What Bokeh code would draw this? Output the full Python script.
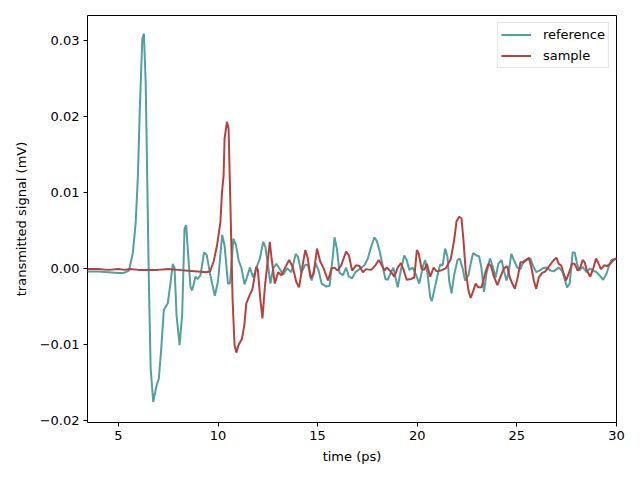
from bokeh.plotting import figure
from bokeh.models import FixedTicker, CustomJSTickFormatter, Range1d, Legend, LegendItem
from bokeh.embed import file_html
from bokeh.resources import INLINE

ref_t = [3.45, 4.0, 4.5, 5.0, 5.28, 5.53, 5.73, 5.87, 5.98, 6.08, 6.2, 6.28, 6.37, 6.45, 6.53, 6.62, 6.75,
         6.9, 7.03, 7.15, 7.28, 7.48, 7.62, 7.73, 7.82, 7.92, 8.07, 8.2, 8.32, 8.4, 8.48, 8.62, 8.7, 8.87,
         8.98, 9.12, 9.3, 9.43, 9.6, 9.84, 10.0, 10.21, 10.33, 10.5, 10.6, 10.77, 10.9, 11.04, 11.17, 11.33,
         11.45, 11.6, 11.76, 11.92, 12.1, 12.27, 12.38, 12.52, 12.63, 12.77, 12.93, 13.1, 13.27, 13.47,
         13.68, 13.9, 14.02, 14.18, 14.38, 14.52, 14.7, 14.9, 15.05, 15.2, 15.43, 15.6, 15.75, 15.85, 15.97,
         16.1, 16.27, 16.43, 16.57, 16.73, 16.9, 17.1, 17.35, 17.52, 17.68, 17.85, 17.97, 18.1, 18.23, 18.4,
         18.52, 18.63, 18.8, 19.02, 19.18, 19.35, 19.47, 19.6, 19.77, 19.93, 20.1, 20.3, 20.4, 20.52, 20.65,
         20.73, 20.85, 21.02, 21.15, 21.27, 21.4, 21.52, 21.6, 21.72, 21.85, 22.02, 22.13, 22.27, 22.4,
         22.57, 22.68, 22.8, 22.97, 23.1, 23.22, 23.35, 23.48, 23.65, 23.77, 23.93, 24.07, 24.23, 24.35,
         24.48, 24.6, 24.72, 24.85, 25.02, 25.18, 25.35, 25.68, 25.8, 25.97, 26.13, 26.3, 26.5, 26.68, 26.85,
         27.1, 27.27, 27.52, 27.65, 27.8, 27.9, 28.02, 28.13, 28.3, 28.5, 28.67, 28.83, 29.0, 29.17, 29.33,
         29.5, 29.63, 29.75, 30.0]
ref_v = [-0.0004, -0.0004, -0.0005, -0.0006, -0.0006, -0.0003, 0.0021, 0.0061, 0.0122, 0.0214, 0.0302,
         0.0309, 0.0245, 0.0114, -0.0018, -0.0132, -0.0176, -0.0156, -0.0145, -0.0106, -0.0055, -0.0046,
         -0.0018, 0.0006, 0.0, -0.0062, -0.0101, -0.0062, 0.0052, 0.0057, 0.0026, -0.0025, -0.0029, -0.0011,
         -0.0014, -0.0009, 0.0021, 0.0018, -0.0007, -0.0036, -0.0017, 0.0044, 0.0030, -0.0020, -0.0020,
         0.0039, 0.0031, 0.0010, 0.0001, -0.0021, -0.0012, 0.0001, -0.0012, 0.0, 0.0013, 0.0035, 0.0028,
         0.0002, -0.0020, 0.0, 0.0006, -0.0001, -0.0008, 0.0, -0.0005, 0.0019, 0.0015, -0.0006, 0.0005,
         0.0004, -0.0016, 0.0007, -0.0003, -0.0020, -0.0024, -0.0023, 0.0013, 0.0041, 0.0025, -0.0006,
         -0.0009, 0.0001, -0.0011, -0.0013, -0.0005, -0.0001, 0.0004, 0.0013, 0.0028, 0.0041, 0.0036,
         0.0024, 0.0008, -0.0014, -0.0015, -0.0008, 0.0001, -0.0025, -0.0002, 0.0017, 0.0011, -0.0002,
         0.0001, -0.0008, -0.0020, 0.0004, 0.0011, -0.0008, -0.0038, -0.0043, -0.0029, -0.0009, 0.0005,
         0.0004, 0.0026, 0.0015, -0.0016, -0.0033, -0.0009, 0.0011, 0.0013, 0.0001, -0.0016, -0.0009,
         0.0006, 0.0020, 0.0017, 0.0016, 0.0001, -0.0031, -0.0006, 0.0013, 0.0004, -0.0012, 0.0006, 0.0011,
         -0.0003, -0.0016, -0.0003, 0.0019, 0.0011, 0.0001, -0.0001, 0.0010, 0.0013, 0.0004, -0.0005,
         -0.0003, 0.0, 0.0001, -0.0003, -0.0004, 0.0001, -0.0003, -0.0025, -0.0020, 0.0021, 0.0021, 0.0006,
         -0.0003, 0.0002, -0.0005, 0.0, -0.0003, -0.0005, -0.0010, -0.0015, -0.0007, 0.0004, 0.0011, 0.0013]

smp_t = [3.45, 4.0, 4.5, 5.0, 5.3, 5.6, 6.0, 6.5, 7.0, 7.5, 8.0, 8.5, 9.0, 9.37, 9.6, 9.78, 9.95, 10.12,
         10.2, 10.28, 10.33, 10.45, 10.53, 10.62, 10.73, 10.83, 10.92, 11.03, 11.2, 11.32, 11.42, 11.58,
         11.73, 11.92, 12.0, 12.12, 12.23, 12.35, 12.6, 12.68, 12.85, 13.02, 13.18, 13.35, 13.57, 13.75,
         13.93, 14.07, 14.22, 14.38, 14.5, 14.65, 14.8, 14.97, 15.13, 15.3, 15.52, 15.7, 15.85, 16.0, 16.18,
         16.43, 16.57, 16.73, 16.93, 17.1, 17.27, 17.43, 17.68, 17.9, 18.07, 18.18, 18.35, 18.47, 18.63,
         18.85, 19.02, 19.18, 19.3, 19.47, 19.68, 19.85, 19.98, 20.07, 20.22, 20.35, 20.48, 20.65, 20.82,
         20.98, 21.17, 21.43, 21.68, 21.85, 21.97, 22.1, 22.22, 22.32, 22.43, 22.57, 22.68, 22.82, 22.93,
         23.07, 23.23, 23.4, 23.57, 23.7, 23.85, 24.02, 24.18, 24.35, 24.52, 24.63, 24.77, 24.9, 25.05,
         25.18, 25.35, 25.47, 25.6, 25.73, 25.85, 25.97, 26.1, 26.27, 26.43, 26.65, 26.85, 26.98, 27.1,
         27.22, 27.35, 27.47, 27.6, 27.77, 27.9, 28.05, 28.18, 28.3, 28.4, 28.52, 28.68, 28.85, 28.97,
         29.07, 29.22, 29.38, 29.52, 29.68, 29.85, 30.0]
smp_v = [-0.0001, -0.0001, -0.0002, -0.0001, -0.0002, -0.0001, -0.0002, -0.0002, -0.0002, -0.0001,
         -0.0002, -0.0003, -0.0004, -0.0005, -0.0004, 0.0009, 0.0030, 0.0061, 0.0100, 0.0122, 0.0171,
         0.0193, 0.0184, 0.0087, -0.0040, -0.0101, -0.0111, -0.0101, -0.0093, -0.0075, -0.0046, -0.0036,
         -0.0027, 0.0002, -0.0002, -0.0040, -0.0066, -0.0025, 0.0035, 0.0015, -0.0020, -0.0005, -0.0009,
         0.0, 0.0011, 0.0002, -0.0018, -0.0025, 0.0, 0.0024, 0.0014, -0.0013, -0.0007, 0.0026, 0.0009, 0.0,
         -0.0016, 0.0, 0.0001, -0.0003, 0.0004, 0.0022, 0.0017, -0.0003, 0.0004, 0.0003, -0.0005, -0.0001,
         -0.0002, 0.0004, 0.0011, 0.0006, -0.0003, 0.0001, -0.0003, -0.0011, 0.0001, 0.0007, -0.0001,
         -0.0015, -0.0014, -0.0012, 0.0024, 0.0020, -0.0001, -0.0002, 0.0006, -0.0011, 0.0001, -0.0004,
         -0.0003, 0.0, 0.0012, 0.0037, 0.0062, 0.0068, 0.0066, 0.0037, -0.0003, -0.0029, -0.0039, -0.0029,
         -0.0020, -0.0025, -0.0025, -0.0007, 0.0006, 0.0003, -0.0011, -0.0022, -0.0011, 0.0, 0.0003,
         -0.0011, -0.0020, -0.0027, -0.0011, 0.0008, 0.0008, 0.0011, 0.0014, 0.0001, -0.0016, -0.0027,
         -0.0012, -0.0006, -0.0004, 0.0004, 0.0011, 0.0014, 0.0006, 0.0004, -0.0007, -0.0016, -0.0007,
         0.0006, 0.0006, -0.0003, 0.0001, 0.0011, 0.0008, -0.0003, -0.0011, 0.0001, 0.0013, 0.0008, -0.0001,
         0.0004, 0.0003, 0.0006, 0.0011, 0.0013]

x_ticks = [5, 10, 15, 20, 25, 30]
y_ticks = [-0.02, -0.01, 0.0, 0.01, 0.02, 0.03]

FONT = "DejaVu Sans"

p = figure(width=640, height=480, output_backend="svg", toolbar_location=None,
           x_range=Range1d(3.45, 30), y_range=Range1d(-0.0203, 0.0333),
           min_border_left=87, min_border_right=24, min_border_top=15, min_border_bottom=58)
p.xgrid.visible = False
p.ygrid.visible = False
p.outline_line_color = "black"
p.outline_line_width = 1

r1 = p.line(ref_t, ref_v, line_color="#52a0a0", line_width=2)
r2 = p.line(smp_t, smp_v, line_color="#b5423e", line_width=2)

for ax in (p.xaxis[0], p.yaxis[0]):
    ax.major_label_text_font = FONT
    ax.major_label_text_font_size = "13px"
    ax.major_label_text_color = "black"
    ax.axis_label_text_font = FONT
    ax.axis_label_text_font_size = "13px"
    ax.axis_label_text_font_style = "normal"
    ax.axis_label_text_color = "black"
    ax.minor_tick_line_color = None
    ax.major_tick_out = 4
    ax.major_tick_in = 0
    ax.axis_line_color = None
    ax.major_tick_line_color = "black"

p.xaxis.ticker = FixedTicker(ticks=x_ticks)
p.yaxis.ticker = FixedTicker(ticks=y_ticks)
p.xaxis.axis_label = "time (ps)"
p.yaxis.axis_label = "transmitted signal (mV)"
p.yaxis.formatter = CustomJSTickFormatter(code="""
const s = Math.abs(tick) < 1e-12 ? "0.00" : tick.toFixed(2);
return s.replace('-', '\u2212');
""")
p.xaxis.major_label_standoff = 4
p.yaxis.major_label_standoff = 4
p.xaxis.axis_label_standoff = 6
p.yaxis.axis_label_standoff = 8

legend = Legend(items=[LegendItem(label="reference", renderers=[r1]),
                       LegendItem(label="sample", renderers=[r2])],
                location="top_right")
legend.label_text_font = FONT
legend.label_text_font_size = "13px"
legend.label_text_color = "black"
legend.border_line_color = "#cccccc"
legend.border_line_width = 1
legend.background_fill_alpha = 0.8
legend.margin = 7
legend.padding = 3
legend.spacing = 4
legend.glyph_width = 30
legend.glyph_height = 17
legend.label_standoff = 12
legend.label_height = 17
p.add_layout(legend)

open("out.html", "w").write(file_html(p, INLINE))
